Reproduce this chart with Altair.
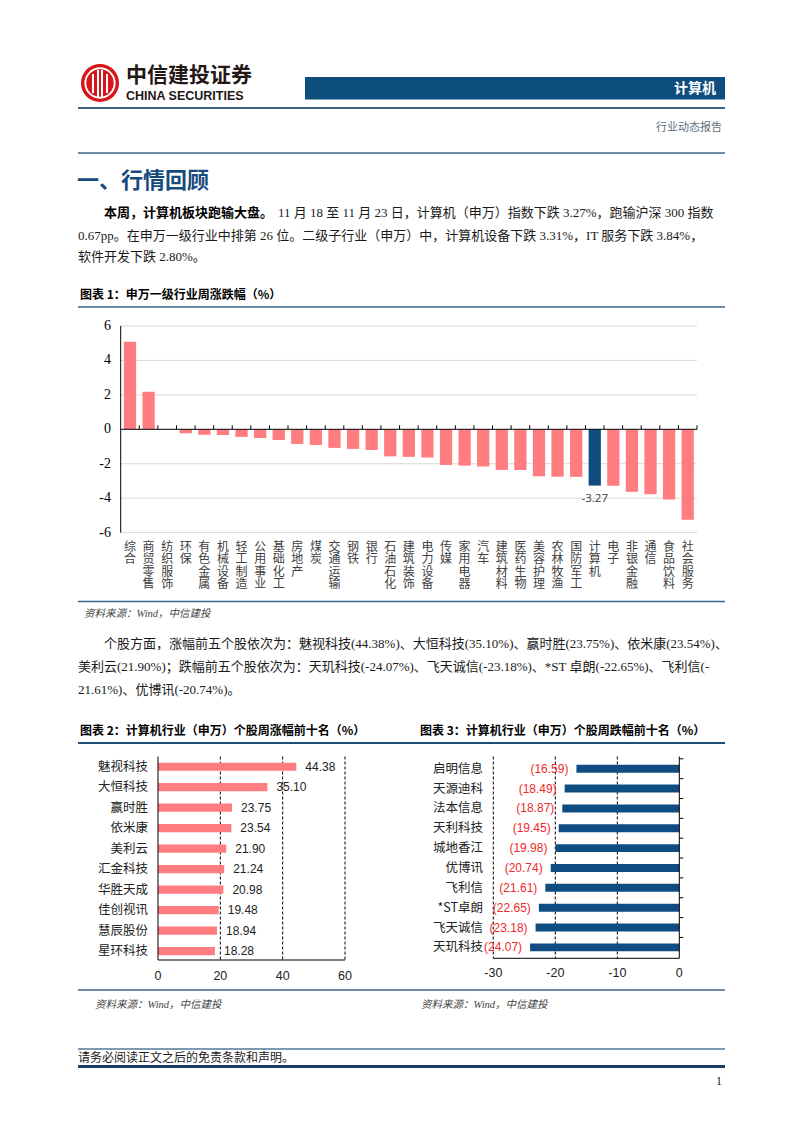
import altair as alt
import pandas as pd

# ---------------- data ----------------
cats1 = ['综合', '商贸零售', '纺织服饰', '环保', '有色金属', '机械设备', '轻工制造', '公用事业',
         '基础化工', '房地产', '煤炭', '交通运输', '钢铁', '银行', '石油石化', '建筑装饰',
         '电力设备', '传媒', '家用电器', '汽车', '建筑材料', '医药生物', '美容护理', '农林牧渔',
         '国防军工', '计算机', '电子', '非银金融', '通信', '食品饮料', '社会服务']
vals1 = [5.08, 2.18, 0.02, -0.23, -0.32, -0.33, -0.44, -0.50, -0.62, -0.85, -0.91, -1.08,
         -1.14, -1.20, -1.57, -1.60, -1.64, -2.07, -2.11, -2.16, -2.36, -2.37, -2.73, -2.75,
         -2.76, -3.27, -3.28, -3.63, -3.77, -4.08, -5.26]
ticks1 = [6, 4, 2, 0, -2, -4, -6]

cats2 = ['魅视科技', '大恒科技', '赢时胜', '依米康', '美利云', '汇金科技', '华胜天成', '佳创视讯', '慧辰股份', '星环科技']
vals2 = [44.38, 35.10, 23.75, 23.54, 21.90, 21.24, 20.98, 19.48, 18.94, 18.28]
ticks2 = [0, 20, 40, 60]

cats3 = ['启明信息', '天源迪科', '法本信息', '天利科技', '城地香江', '优博讯', '飞利信', '*ST卓朗', '飞天诚信', '天玑科技']
vals3 = [-16.59, -18.49, -18.87, -19.45, -19.98, -20.74, -21.61, -22.65, -23.18, -24.07]
ticks3 = [-30, -20, -10, 0]

HIGHLIGHT = '计算机'

# ---------------- style ----------------
M = 8
W, H = 786, 1117
SERIF = "Liberation Serif, Noto Sans CJK SC"
CJK = "Noto Sans CJK SC"
SANS = "Liberation Sans, Noto Sans CJK SC"
PINK = "#FF7C80"
NAVY = "#0F4C81"
LINE = "#3F6486"
EMPTY = alt.Data(values=[{"a": 1}])


def P(v):
    return v - M


def T(s, x, y, size=13, font=SERIF, color="#1a1a1a", weight="normal", align="left",
      baseline="middle", style="normal"):
    return alt.Chart(EMPTY).mark_text(
        text=s, fontSize=size, font=font, color=color, fontWeight=weight, align=align,
        baseline=baseline, fontStyle=style
    ).encode(x=alt.value(P(x)), y=alt.value(P(y)))


def HR(x1, x2, y, color=LINE, w=1.5):
    return alt.Chart(EMPTY).mark_rule(color=color, strokeWidth=w).encode(
        x=alt.value(P(x1)), x2=alt.value(P(x2)), y=alt.value(P(y)))


layers = []

# ---------------- header ----------------
layers.append(alt.Chart(EMPTY).mark_circle(size=1450, color="#D7141A", opacity=1).encode(
    x=alt.value(P(100)), y=alt.value(P(83))))
layers.append(alt.Chart(EMPTY).mark_point(shape="circle", filled=False, size=860, color="white",
                                          strokeWidth=2, opacity=1).encode(
    x=alt.value(P(100)), y=alt.value(P(83))))
for xx, y1, y2 in [(93, 74, 93), (107, 74, 93), (98, 70, 97), (102, 70, 97)]:
    layers.append(alt.Chart(EMPTY).mark_rule(color="white", strokeWidth=2).encode(
        x=alt.value(P(xx)), y=alt.value(P(y1)), y2=alt.value(P(y2))))
layers.append(T("中信建投证券", 126, 76, size=21, font=CJK, weight="bold", color="#231815"))
layers.append(T("CHINA SECURITIES", 126, 96, size=12.5, font="Liberation Sans", weight="bold",
                color="#231815"))
layers.append(alt.Chart(EMPTY).mark_rect(color="#0E4E7E").encode(
    x=alt.value(P(305)), x2=alt.value(P(725)), y=alt.value(P(77)), y2=alt.value(P(99.5))))
layers.append(T("计算机", 716, 88.5, size=14, font=CJK, weight="bold", color="white", align="right"))
layers.append(HR(78, 725, 108, LINE, 1.8))
layers.append(T("行业动态报告", 722, 128, size=11, font=SERIF, color="#5b6f80", align="right"))
layers.append(HR(78, 725, 153, LINE, 1.5))

layers.append(T("一、行情回顾", 77, 181, size=22, font=CJK, weight="bold", color="#174A7C"))

layers.append(T("本周，计算机板块跑输大盘。", 104, 213, size=13, weight="bold", color="#000"))
layers.append(T("11 月 18 至 11 月 23 日，计算机（申万）指数下跌 3.27%，跑输沪深 300 指数", 278, 213))
layers.append(T("0.67pp。在申万一级行业中排第 26 位。二级子行业（申万）中，计算机设备下跌 3.31%，IT 服务下跌 3.84%，", 78, 236))
layers.append(T("软件开发下跌 2.80%。", 78, 257))

layers.append(T("图表 1：申万一级行业周涨跌幅（%）", 80, 295, size=12, font=CJK, weight="bold", color="#000"))
layers.append(HR(78, 725, 307, LINE, 1.5))

# ---------------- chart 1 ----------------
df1 = pd.DataFrame({"cat": cats1, "v": vals1})
df1["z"] = 0
df1["lab"] = [str(v) for v in vals1]
chars1 = pd.DataFrame([{"cat": c, "i": i, "ch": ch} for c in cats1 for i, ch in enumerate(c)])
sx1 = alt.Scale(domain=cats1, range=[P(120.7), P(697.0)], paddingInner=0.34, paddingOuter=0.17)
sy1 = alt.Scale(domain=[-6, 6], range=[P(532.6), P(326.0)], nice=False, zero=False)
syc = alt.Scale(domain=[0, 3], range=[P(546.5), P(584)], nice=False, zero=False)
X1 = alt.X("cat:N", scale=sx1, axis=None, bandPosition=0.5)
X1b = alt.X("cat:N", scale=sx1, axis=None)
step1 = (697.0 - 120.7) / len(cats1)

dft1 = pd.DataFrame({"t": ticks1})
dft1["lab"] = [str(t) for t in ticks1]
layers.append(alt.Chart(dft1).transform_filter("datum.t != 0").mark_rule(color="#D9D9D9", strokeWidth=1).encode(
    y=alt.Y("t:Q", scale=sy1, axis=None), x=alt.value(P(120.7)), x2=alt.value(P(697.0))))
layers.append(alt.Chart(df1).mark_bar().encode(
    x=X1b, y=alt.Y("v:Q", scale=sy1, axis=None),
    color=alt.condition(alt.datum.cat == HIGHLIGHT, alt.value(NAVY), alt.value(PINK))))
layers.append(alt.Chart(dft1).transform_filter("datum.t == 0").mark_rule(color="#000", strokeWidth=1).encode(
    y=alt.Y("t:Q", scale=sy1, axis=None), x=alt.value(P(120.7)), x2=alt.value(P(697.0))))
layers.append(alt.Chart(pd.DataFrame({"a": [6], "b": [-6]})).mark_rule(color="#000", strokeWidth=1).encode(
    y=alt.Y("a:Q", scale=sy1, axis=None), y2="b:Q", x=alt.value(P(120.7))))
layers.append(alt.Chart(df1).mark_rule(color="#000", strokeWidth=1, xOffset=step1 / 2, y2Offset=-4).encode(
    x=X1, y=alt.Y("z:Q", scale=sy1, axis=None), y2="z:Q"))
layers.append(alt.Chart(dft1).mark_text(align="right", baseline="middle", fontSize=14, font="Liberation Serif",
                                        color="#000").encode(
    y=alt.Y("t:Q", scale=sy1, axis=None), x=alt.value(P(111)), text="lab:N"))
layers.append(alt.Chart(chars1).mark_text(align="center", baseline="middle", fontSize=12,
                                          font=CJK, color="#404040").encode(
    x=X1, y=alt.Y("i:Q", scale=syc, axis=None), text="ch:N"))
layers.append(alt.Chart(df1).transform_filter(alt.datum.cat == HIGHLIGHT).mark_text(
    align="center", baseline="top", dy=7, fontSize=11.5, font="Open Sans", color="#404040").encode(
    x=X1, y=alt.Y("v:Q", scale=sy1, axis=None), text="lab:N"))

layers.append(HR(78, 725, 601.5, LINE, 1.5))
layers.append(T("资料来源：Wind，中信建投", 84, 614, size=10.5, style="italic", color="#444"))

# ---------------- middle paragraph ----------------
layers.append(T("个股方面，涨幅前五个股依次为：魅视科技(44.38%)、大恒科技(35.10%)、赢时胜(23.75%)、依米康(23.54%)、", 104, 644))
layers.append(T("美利云(21.90%)；跌幅前五个股依次为：天玑科技(-24.07%)、飞天诚信(-23.18%)、*ST 卓朗(-22.65%)、飞利信(-", 78, 667))
layers.append(T("21.61%)、优博讯(-20.74%)。", 78, 690))

layers.append(T("图表 2：计算机行业（申万）个股周涨幅前十名（%）", 80, 731, size=12, font=CJK, weight="bold", color="#000"))
layers.append(T("图表 3：计算机行业（申万）个股周跌幅前十名（%）", 420, 731, size=12, font=CJK, weight="bold", color="#000"))
layers.append(HR(78, 725, 743, "#1F4E79", 2))

# ---------------- chart 2 ----------------
df2 = pd.DataFrame({"name": cats2, "v": vals2})
sx2 = alt.Scale(domain=[0, 60], range=[P(158), P(345)], nice=False, zero=False)
sy2 = alt.Scale(domain=cats2, range=[P(756.5), P(961.3)], paddingInner=0.6, paddingOuter=0.3)
Y2 = alt.Y("name:N", scale=sy2, axis=None)
dft2 = pd.DataFrame({"t": ticks2})
dft2["lab"] = [str(t) for t in ticks2]

layers.append(alt.Chart(dft2).transform_filter("datum.t != 0").mark_rule(
    color="#000", strokeWidth=1, strokeDash=[3, 2]).encode(
    x=alt.X("t:Q", scale=sx2, axis=None), y=alt.value(P(756.5)), y2=alt.value(P(960))))
layers.append(alt.Chart(df2).mark_bar(color=PINK).encode(
    x=alt.X("v:Q", scale=sx2, axis=None), y=Y2))
layers.append(alt.Chart(pd.DataFrame({"a": [0], "b": [60]})).mark_rule(color="#000", strokeWidth=1).encode(
    x=alt.X("a:Q", scale=sx2, axis=None), x2="b:Q", y=alt.value(P(960))))
layers.append(alt.Chart(pd.DataFrame({"a": [0]})).mark_rule(color="#000", strokeWidth=1).encode(
    x=alt.X("a:Q", scale=sx2, axis=None), y=alt.value(P(756.5)), y2=alt.value(P(960))))
layers.append(alt.Chart(dft2).mark_text(align="center", baseline="middle", fontSize=12.5, font=SANS,
                                        color="#222").encode(
    x=alt.X("t:Q", scale=sx2, axis=None), y=alt.value(P(976)), text="lab:N"))
layers.append(alt.Chart(df2).mark_text(align="right", baseline="middle", fontSize=12.5, font=CJK,
                                       color="#222").encode(
    y=Y2, x=alt.value(P(148)), text="name:N"))
layers.append(alt.Chart(df2).mark_text(align="left", baseline="middle", dx=9, fontSize=12, font=SANS,
                                       color="#222").encode(
    y=Y2, x=alt.X("v:Q", scale=sx2, axis=None), text=alt.Text("v:Q", format=".2f")))

# ---------------- chart 3 ----------------
df3 = pd.DataFrame({"name": cats3, "v": vals3})
df3["z"] = 0
sx3 = alt.Scale(domain=[-30, 0], range=[P(493.3), P(679.3)], nice=False, zero=False)
sy3 = alt.Scale(domain=cats3, range=[P(758.8), P(957.3)], paddingInner=0.6, paddingOuter=0.3)
Y3 = alt.Y("name:N", scale=sy3, axis=None, bandPosition=0.5)
step3 = (957.3 - 758.8) / len(cats3)
dft3 = pd.DataFrame({"t": ticks3})
dft3["lab"] = [str(t) for t in ticks3]

layers.append(alt.Chart(dft3).transform_filter("datum.t != 0").mark_rule(
    color="#000", strokeWidth=1, strokeDash=[3, 2]).encode(
    x=alt.X("t:Q", scale=sx3, axis=None), y=alt.value(P(756.5)), y2=alt.value(P(958.3))))
layers.append(alt.Chart(df3).mark_bar(color=NAVY).encode(
    x=alt.X("v:Q", scale=sx3, axis=None), y=alt.Y("name:N", scale=sy3, axis=None)))
layers.append(alt.Chart(pd.DataFrame({"a": [-30], "b": [0]})).mark_rule(color="#000", strokeWidth=1).encode(
    x=alt.X("a:Q", scale=sx3, axis=None), x2="b:Q", y=alt.value(P(958.3))))
layers.append(alt.Chart(pd.DataFrame({"a": [0]})).mark_rule(color="#000", strokeWidth=1).encode(
    x=alt.X("a:Q", scale=sx3, axis=None), y=alt.value(P(756.5)), y2=alt.value(P(958.3))))
layers.append(alt.Chart(df3).mark_rule(color="#000", strokeWidth=1, yOffset=-step3 / 2, x2Offset=4).encode(
    x=alt.X("z:Q", scale=sx3, axis=None), x2="z:Q", y=Y3))
layers.append(alt.Chart(dft3).mark_text(align="center", baseline="middle", fontSize=12.5, font=SANS,
                                        color="#222").encode(
    x=alt.X("t:Q", scale=sx3, axis=None), y=alt.value(P(973)), text="lab:N"))
layers.append(alt.Chart(df3).mark_text(align="right", baseline="middle", fontSize=12.5, font=CJK,
                                       color="#222").encode(
    y=Y3, x=alt.value(P(483)), text="name:N"))
layers.append(alt.Chart(df3).transform_calculate(
    lab="'(' + format(-datum.v, '.2f') + ')'").mark_text(
    align="right", baseline="middle", dx=-8, fontSize=12, font=SANS, color="#EE2A2A").encode(
    y=Y3, x=alt.X("v:Q", scale=sx3, axis=None), text="lab:N"))

layers.append(HR(78, 725, 990, LINE, 1.5))
layers.append(T("资料来源：Wind，中信建投", 95, 1005, size=10.5, style="italic", color="#444"))
layers.append(T("资料来源：Wind，中信建投", 421, 1005, size=10.5, style="italic", color="#444"))

# ---------------- footer ----------------
layers.append(HR(78, 725, 1049, "#7D9AB0", 2.2))
layers.append(T("请务必阅读正文之后的免责条款和声明。", 78, 1058, size=12))
layers.append(HR(78, 725, 1066.5, "#1B3F66", 3))
layers.append(T("1", 722, 1081, size=12, align="right"))

chart = alt.layer(*layers).resolve_scale(x="independent", y="independent").properties(
    width=W, height=H, autosize=alt.AutoSizeParams(type="none"), padding=0,
    background="white"
).configure_view(stroke=None)

chart.save("out.html", embed_options={"renderer": "svg", "actions": False})
